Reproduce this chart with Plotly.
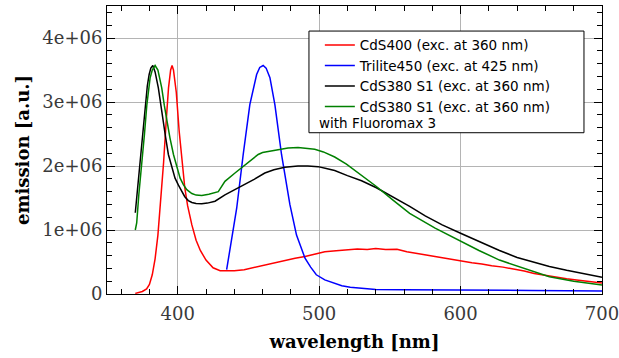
import plotly.graph_objects as go

# ---- data (wavelength in nm, emission in a.u.) ----
red_name = "CdS400 (exc. at 360 nm)"
red_wl = [370, 375, 378, 380, 382, 384, 386, 388, 390, 392, 393.5, 395, 396, 397, 399, 401, 403, 405, 407,
          410, 413, 416, 420, 425, 430, 435, 440, 447, 455, 462, 470, 476, 483, 490, 497, 504, 512, 520,
          527, 534, 540, 547, 555, 562, 570, 578, 585, 592, 600, 608, 615, 622, 630, 638, 645, 652, 660,
          668, 675, 682, 690, 696, 700]
red_val = [0.01e6, 0.04e6, 0.08e6, 0.15e6, 0.3e6, 0.55e6, 0.92e6, 1.42e6, 2.05e6, 2.75e6, 3.22e6, 3.5e6,
           3.57e6, 3.5e6, 3.15e6, 2.55e6, 2.05e6, 1.66e6, 1.38e6, 1.08e6, 0.84e6, 0.68e6, 0.53e6, 0.41e6,
           0.365e6, 0.36e6, 0.365e6, 0.38e6, 0.42e6, 0.46e6, 0.5e6, 0.53e6, 0.56e6, 0.585e6, 0.62e6,
           0.66e6, 0.675e6, 0.69e6, 0.705e6, 0.695e6, 0.71e6, 0.695e6, 0.7e6, 0.66e6, 0.63e6, 0.6e6,
           0.57e6, 0.55e6, 0.51e6, 0.49e6, 0.47e6, 0.44e6, 0.42e6, 0.39e6, 0.36e6, 0.32e6, 0.29e6,
           0.26e6, 0.24e6, 0.22e6, 0.2e6, 0.18e6, 0.17e6]

blue_name = "Trilite450 (exc. at 425 nm)"
blue_wl = [434.6, 438, 441.7, 446.3, 451, 455.8, 458, 460.4, 462.5, 465.2, 468.7, 473.4, 479.3, 484, 490,
           494, 498, 504, 510, 516, 522, 530, 540, 560, 600, 650, 700]
blue_val = [0.38e6, 0.82e6, 1.34e6, 2.18e6, 2.96e6, 3.43e6, 3.54e6, 3.57e6, 3.53e6, 3.38e6, 2.96e6,
            2.18e6, 1.4e6, 0.92e6, 0.56e6, 0.42e6, 0.3e6, 0.22e6, 0.17e6, 0.13e6, 0.105e6, 0.085e6,
            0.07e6, 0.065e6, 0.065e6, 0.055e6, 0.045e6]

black_name = "CdS380 S1 (exc. at 360 nm)"
black_wl = [370, 371.5, 373.4, 375, 377, 378.5, 379.8, 381, 382.4, 384, 386.3, 388, 389.9, 391.5, 393.4,
            396, 398.1, 400.5, 402.8, 405, 407.5, 410, 413, 417, 421, 426.4, 433.4, 440.5, 447.5, 454,
            461.6, 468, 475.7, 485, 492, 499.3, 505, 511, 520, 530, 540.5, 552, 564, 575, 587, 600, 613,
            627.5, 640, 652, 662.8, 675, 688, 700]
black_val = [1.27e6, 1.62e6, 2.02e6, 2.4e6, 2.96e6, 3.25e6, 3.43e6, 3.53e6, 3.57e6, 3.47e6, 3.22e6,
             2.95e6, 2.7e6, 2.44e6, 2.18e6, 1.95e6, 1.81e6, 1.7e6, 1.6e6, 1.52e6, 1.46e6, 1.43e6, 1.415e6,
             1.41e6, 1.42e6, 1.45e6, 1.55e6, 1.63e6, 1.71e6, 1.79e6, 1.89e6, 1.94e6, 1.98e6, 2.0e6,
             2.0e6, 1.99e6, 1.96e6, 1.93e6, 1.85e6, 1.77e6, 1.66e6, 1.52e6, 1.37e6, 1.22e6, 1.08e6,
             0.95e6, 0.82e6, 0.68e6, 0.57e6, 0.49e6, 0.43e6, 0.37e6, 0.31e6, 0.26e6]

green_name = "CdS380 S1 (exc. at 360 nm)"
green_wl = [370, 371, 372.5, 374.6, 376.5, 378.2, 379.5, 380.5, 382, 384, 386, 388.7, 390.5, 392.3, 394.5,
            397, 399.5, 401.7, 404, 406.4, 410, 413, 417, 422, 428.7, 433.4, 440.5, 447.5, 452, 456.9,
            460, 465, 471, 478, 485.1, 491, 496.9, 503, 511, 519.3, 530, 540.5, 552, 564, 582, 600,
            613, 627.5, 645, 662.8, 680, 700]
green_val = [1.0e6, 1.11e6, 1.55e6, 2.02e6, 2.5e6, 2.96e6, 3.2e6, 3.38e6, 3.5e6, 3.57e6, 3.5e6, 3.22e6,
             2.95e6, 2.7e6, 2.44e6, 2.18e6, 1.98e6, 1.81e6, 1.71e6, 1.63e6, 1.57e6, 1.545e6, 1.54e6,
             1.56e6, 1.6e6, 1.76e6, 1.89e6, 2.02e6, 2.1e6, 2.18e6, 2.21e6, 2.23e6, 2.26e6, 2.28e6,
             2.29e6, 2.28e6, 2.26e6, 2.22e6, 2.14e6, 2.03e6, 1.86e6, 1.68e6, 1.47e6, 1.26e6, 1.03e6,
             0.82e6, 0.68e6, 0.53e6, 0.4e6, 0.27e6, 0.2e6, 0.14e6]

series = [
    (red_name, red_wl, red_val, "#ff0000"),
    (blue_name, blue_wl, blue_val, "#0000ff"),
    (black_name, black_wl, black_val, "#000000"),
    (green_name, green_wl, green_val, "#008000"),
]

y_tickvals = [0, 1e6, 2e6, 3e6, 4e6]
y_ticktext = ["0", "1e+06", "2e+06", "3e+06", "4e+06"]
x_tickvals = [400, 500, 600, 700]
x_title = "wavelength [nm]"
y_title = "emission [a.u.]"
note_text = "with Fluoromax 3"

fig = go.Figure()
for name, wl, val, col in series:
    fig.add_trace(go.Scatter(x=wl, y=val, mode="lines", name=name,
                             line=dict(color=col, width=1.5)))

tick_font = dict(family="DejaVu Serif", size=18, color="#3a3a3a")
title_font = dict(family="DejaVu Serif", size=18, color="#000000")

# plot area: x 107..602 px, y 6..294 px
fig.update_layout(
    width=619, height=358,
    margin=dict(l=107, r=17, t=6, b=64, autoexpand=False),
    paper_bgcolor="white", plot_bgcolor="white",
    showlegend=True,
    legend=dict(x=0.43, y=0.918, xanchor="left", yanchor="top",
                bgcolor="rgba(0,0,0,0)", borderwidth=0,
                font=dict(family="DejaVu Sans", size=13.5, color="#000000"),
                tracegroupgap=0, itemwidth=30),
    shapes=[dict(type="rect", xref="paper", yref="paper", x0=0.408, x1=0.9636,
                 y0=0.56, y1=0.913, line=dict(color="#000000", width=1),
                 fillcolor="white", layer="above")],
    annotations=[dict(text=note_text, xref="paper", yref="paper", x=0.424, y=0.593,
                      xanchor="left", yanchor="middle", showarrow=False,
                      font=dict(family="DejaVu Sans", size=13.5, color="#000000"))],
)

fig.update_xaxes(
    range=[350, 700], tickvals=x_tickvals, ticks="inside", ticklen=8, tickwidth=1,
    tickcolor="#000000", showline=True, linecolor="#000000", linewidth=1, mirror="ticks",
    showgrid=True, gridcolor="#b4b4b4", gridwidth=1, zeroline=False, automargin=False,
    tickfont=tick_font, ticklabeloverflow="allow", ticklabelstandoff=3,
    minor=dict(ticks="inside", dtick=20, tick0=0, ticklen=5, tickcolor="#000000", showgrid=False),
    title=dict(text="<b>" + x_title + "</b>", font=title_font, standoff=12),
)
fig.update_yaxes(
    range=[0, 4.5e6], tickvals=y_tickvals, ticktext=y_ticktext, ticks="inside", ticklen=8,
    tickwidth=1, tickcolor="#000000", showline=True, linecolor="#000000", linewidth=1,
    mirror="ticks", showgrid=True, gridcolor="#b4b4b4", gridwidth=1, zeroline=False,
    automargin=False, tickfont=tick_font, ticklabeloverflow="allow",
    minor=dict(ticks="inside", dtick=2e5, tick0=0, ticklen=5, tickcolor="#000000", showgrid=False),
    title=dict(text="<b>" + y_title + "</b>", font=title_font, standoff=8),
)

fig.write_html("out.html", config={"displayModeBar": False},
               post_script="document.body.style.margin='0';")
